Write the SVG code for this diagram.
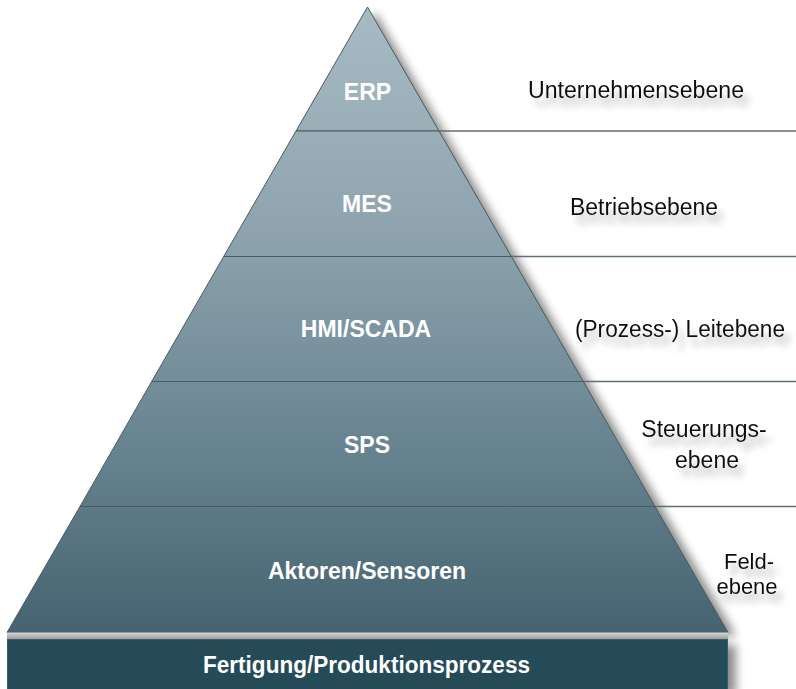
<svg xmlns="http://www.w3.org/2000/svg" width="796" height="689" viewBox="0 0 796 689">
  <defs>
    <linearGradient id="pyrFill" gradientUnits="userSpaceOnUse" x1="0" y1="7" x2="0" y2="633">
      <stop offset="0" stop-color="#a8bbc5"/>
      <stop offset="0.35" stop-color="#8fa4ae"/>
      <stop offset="0.7" stop-color="#688490"/>
      <stop offset="1" stop-color="#456370"/>
    </linearGradient>
    <linearGradient id="band" x1="0" y1="0" x2="0" y2="1">
      <stop offset="0" stop-color="#d6d6d6"/>
      <stop offset="1" stop-color="#9c9c9c"/>
    </linearGradient>
    <filter id="dropShadow" x="-10%" y="-10%" width="130%" height="130%">
      <feGaussianBlur stdDeviation="5"/>
    </filter>
    <!-- blurred grey copy of the glyphs, offset down-right, under the text -->
    <filter id="textShadow" x="-20%" y="-50%" width="140%" height="250%">
      <feGaussianBlur in="SourceAlpha" stdDeviation="3" result="blur"/>
      <feOffset in="blur" dx="6" dy="9" result="off"/>
      <feFlood flood-color="#8a8a8a" flood-opacity="0.55"/>
      <feComposite in2="off" operator="in" result="shadow"/>
      <feMerge>
        <feMergeNode in="shadow"/>
        <feMergeNode in="SourceGraphic"/>
      </feMerge>
    </filter>
  </defs>
  <style>
    .layer { fill: url(#pyrFill); stroke: #4a5b62; stroke-width: 1; }
    .inner { font-family: "Liberation Sans", Arial, sans-serif; font-weight: bold; font-size: 23px; fill: #ffffff; text-anchor: middle; }
    .side { font-family: "Liberation Sans", Arial, sans-serif; font-size: 23px; fill: #111111; text-anchor: middle; filter: url(#textShadow); }
    .small { font-size: 22px; }
    .divider { stroke: #5f6f76; stroke-width: 1.5; fill: none; }
  </style>

  <rect width="796" height="689" fill="#ffffff"/>

  <!-- soft shadows behind the pyramid and the base bar -->
  <g fill="#000000" opacity="0.45" filter="url(#dropShadow)">
    <polygon points="375,12 736,636 15,636"/>
    <rect x="15" y="645" width="721" height="50"/>
  </g>

  <!-- level dividers running out to the right-hand labels -->
  <g id="connectors">
    <line class="divider" x1="296" y1="131" x2="796" y2="131"/>
    <line class="divider" x1="224" y1="256.5" x2="796" y2="256.5"/>
    <line class="divider" x1="152" y1="381.5" x2="796" y2="381.5"/>
    <line class="divider" x1="80" y1="506.5" x2="796" y2="506.5"/>
  </g>

  <g id="erp">
    <polygon class="layer" points="367.5,7 439,131 296,131"/>
    <text class="inner" x="367.5" y="100">ERP</text>
  </g>
  <g id="mes">
    <polygon class="layer" points="296,131 439,131 511.3,256.5 223.7,256.5"/>
    <text class="inner" x="367" y="212">MES</text>
  </g>
  <g id="hmi-scada">
    <polygon class="layer" points="223.7,256.5 511.3,256.5 583.3,381.5 151.7,381.5"/>
    <text class="inner" x="366" y="337">HMI/SCADA</text>
  </g>
  <g id="sps">
    <polygon class="layer" points="151.7,381.5 583.3,381.5 655,506.5 80,506.5"/>
    <text class="inner" x="367" y="453">SPS</text>
  </g>
  <g id="aktoren-sensoren">
    <polygon class="layer" points="80,506.5 655,506.5 728,632.5 7,632.5"/>
    <text class="inner" x="367" y="579">Aktoren/Sensoren</text>
  </g>

  <g id="fertigung">
    <rect x="7" y="632.5" width="721" height="6.5" fill="url(#band)"/>
    <rect x="7.5" y="639.5" width="720" height="50" fill="#244b57" stroke="#3a5c66" stroke-width="1"/>
    <text class="inner" x="366.5" y="673" textLength="327" lengthAdjust="spacingAndGlyphs">Fertigung/Produktionsprozess</text>
  </g>

  <!-- level names on the right -->
  <g id="labels">
    <text class="side" x="636" y="98" textLength="216" lengthAdjust="spacingAndGlyphs">Unternehmensebene</text>
    <text class="side" x="644" y="215" textLength="148" lengthAdjust="spacingAndGlyphs">Betriebsebene</text>
    <text class="side" x="680" y="337" textLength="210" lengthAdjust="spacingAndGlyphs">(Prozess-) Leitebene</text>
    <text class="side" x="704" y="437">Steuerungs-</text>
    <text class="side" x="707" y="468">ebene</text>
    <text class="side small" x="749" y="569">Feld-</text>
    <text class="side small" x="747" y="594">ebene</text>
  </g>
</svg>
